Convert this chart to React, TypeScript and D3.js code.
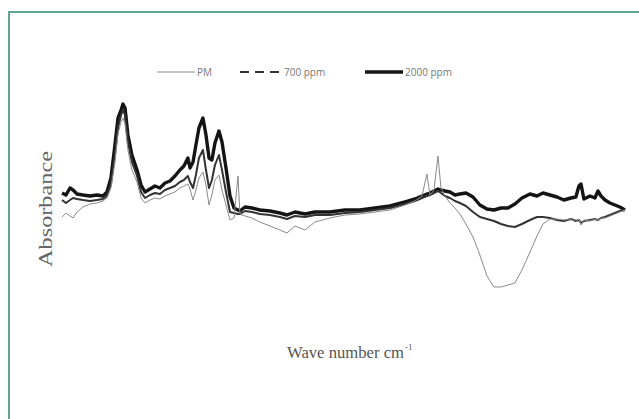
import * as d3 from "d3";
import React from "react";

// FTIR spectra (wave number in cm-1, absorbance in arbitrary units)
const wavenumber = [
  4000, 3975, 3950, 3931, 3906, 3869, 3825, 3781, 3744, 3719,
  3694, 3669, 3650, 3631, 3619, 3606, 3588, 3563, 3531, 3506,
  3481, 3450, 3419, 3388, 3356, 3325, 3294, 3263, 3238, 3213,
  3200, 3181, 3163, 3144, 3119, 3100, 3081, 3063, 3044, 3019,
  3000, 2975, 2950, 2925, 2900, 2888, 2856, 2813, 2763, 2700,
  2638, 2594, 2544, 2481, 2419, 2325, 2231, 2138, 2044, 1950,
  1856, 1794, 1750, 1719, 1700, 1675, 1650, 1631, 1606, 1575,
  1544, 1513, 1475, 1431, 1388, 1344, 1300, 1256, 1213, 1169,
  1125, 1075, 1031, 994, 950, 906, 863, 819, 788, 769,
  756, 738, 700, 669, 650, 631, 606, 575, 544, 513,
  481,
];

const pm = [
  0.83, 0.87, 0.84, 0.82, 0.88, 0.93, 0.96, 0.97, 0.99, 1.02,
  1.12, 1.38, 1.66, 1.78, 1.82, 1.76, 1.5, 1.3, 1.18, 1.02,
  0.97, 1.0, 1.02, 1.01, 1.04, 1.06, 1.08, 1.12, 1.14, 1.16,
  1.11, 1.0, 1.1, 1.22, 1.28, 1.15, 0.95, 1.05, 1.2, 1.25,
  1.1, 0.95, 0.8, 0.82, 1.24, 0.86, 0.84, 0.82, 0.78, 0.74,
  0.7, 0.67, 0.74, 0.7, 0.78, 0.82, 0.85, 0.86, 0.88, 0.9,
  0.95, 0.99, 1.04, 1.26, 1.05, 1.1, 1.44, 1.12, 1.04, 0.97,
  0.92, 0.86, 0.76, 0.63, 0.45, 0.24, 0.13, 0.13, 0.15, 0.17,
  0.3, 0.48, 0.64, 0.76, 0.81, 0.81, 0.8, 0.81, 0.78, 0.81,
  0.75, 0.8, 0.79, 0.81, 0.8, 0.82, 0.82, 0.84, 0.86, 0.88,
  0.9,
];

const ppm700 = [
  1.0, 0.97, 1.0, 1.02, 1.01, 1.0, 0.99, 1.0, 1.01, 1.04,
  1.16, 1.45, 1.72, 1.85, 1.9, 1.85, 1.58, 1.38, 1.24, 1.08,
  1.02, 1.05, 1.07, 1.06, 1.1, 1.12, 1.14, 1.18, 1.2, 1.24,
  1.18, 1.12, 1.25, 1.42, 1.5, 1.3, 1.12, 1.2, 1.35, 1.45,
  1.3, 1.08, 0.88, 0.87, 0.86, 0.86, 0.89, 0.88, 0.86, 0.85,
  0.83, 0.81, 0.84, 0.83, 0.85, 0.85, 0.87, 0.88, 0.9, 0.92,
  0.96, 0.99, 1.02, 1.04, 1.05, 1.07, 1.09, 1.07, 1.04, 1.02,
  0.99, 0.97, 0.94, 0.88, 0.83, 0.81, 0.79, 0.76, 0.74, 0.73,
  0.76, 0.8, 0.83, 0.83, 0.82, 0.8, 0.79, 0.81, 0.79, 0.8,
  0.77, 0.79, 0.8, 0.81, 0.8, 0.82, 0.83, 0.85, 0.87, 0.89,
  0.9,
];

const ppm2000 = [
  1.07, 1.05, 1.12, 1.1, 1.06, 1.05, 1.04, 1.05, 1.04, 1.08,
  1.22, 1.55, 1.82, 1.9, 1.96, 1.92, 1.65, 1.45, 1.3, 1.15,
  1.08, 1.11, 1.14, 1.12, 1.17, 1.19, 1.24, 1.3, 1.34, 1.42,
  1.32, 1.38, 1.55, 1.72, 1.82, 1.65, 1.42, 1.4, 1.57, 1.69,
  1.58, 1.32, 1.04, 0.92, 0.9, 0.89, 0.93, 0.92, 0.9, 0.89,
  0.87, 0.85, 0.88, 0.86, 0.88, 0.88, 0.9, 0.9, 0.92, 0.94,
  0.98, 1.01, 1.04, 1.06, 1.07, 1.09, 1.11, 1.1, 1.09, 1.08,
  1.05, 1.06, 1.07, 1.03, 0.95, 0.91, 0.9, 0.92, 0.92, 0.96,
  1.02, 1.06, 1.04, 1.07, 1.05, 1.03, 1.0, 1.02, 1.03, 1.14,
  1.16, 1.01, 1.04, 1.02, 1.09, 1.04, 1.0, 0.97, 0.95, 0.93,
  0.9,
];

const seriesNames = ["PM", "700 ppm", "2000 ppm"];

const App = () => {
  const ref = React.useRef<SVGSVGElement>(null);

  React.useEffect(() => {
    const width = 639,
      height = 419;
    const svg = d3.select(ref.current);
    svg.selectAll("*").remove();
    svg.attr("width", width).attr("height", height);

    svg.append("rect").attr("width", width).attr("height", height).attr("fill", "#fff");

    // teal frame, only top and left edges show in the crop
    svg
      .append("path")
      .attr("d", `M9,${height} V12 H${width}`)
      .attr("fill", "none")
      .attr("stroke", "#62a594")
      .attr("stroke-width", 2);

    const x = d3.scaleLinear().domain([4000, 481]).range([62, 625]);
    const y = d3.scaleLinear().domain([0, 2]).range([300, 100]);

    const line = d3
      .line<number>()
      .x((_, i) => x(wavenumber[i]))
      .y((d) => y(d));

    // 700 ppm is dashed in the legend but so noisy it reads solid in the plot
    const styles = [
      { data: pm, color: "#8a8a8a", w: 1, dash: null },
      { data: ppm700, color: "#333", w: 2, dash: null },
      { data: ppm2000, color: "#141414", w: 3.4, dash: null },
    ];

    // thick series at the back, thin PM on top
    [2, 1, 0].forEach((k) => {
      const s = styles[k];
      svg
        .append("path")
        .datum(s.data)
        .attr("d", line)
        .attr("fill", "none")
        .attr("stroke", s.color)
        .attr("stroke-width", s.w)
        .attr("stroke-linejoin", "round")
        .attr("stroke-dasharray", s.dash);
    });

    // legend
    const legendX = [157, 240, 365];
    const legendLen = [38, 42, 38];
    const legend = svg.append("g").attr("transform", "translate(0,72)");
    seriesNames.forEach((name, k) => {
      const s = styles[k];
      legend
        .append("line")
        .attr("x1", legendX[k])
        .attr("x2", legendX[k] + legendLen[k])
        .attr("stroke", s.color)
        .attr("stroke-width", s.w)
        .attr("stroke-dasharray", k === 1 ? "9,6" : null);
      legend
        .append("text")
        .attr("x", legendX[k] + legendLen[k] + 2)
        .attr("y", 3.5)
        .attr("font-family", "'Open Sans', sans-serif")
        .attr("font-size", 10)
        .attr("fill", "#777")
        .text(name);
    });

    // axis titles
    svg
      .append("text")
      .attr("transform", "translate(52,209) rotate(-90)")
      .attr("text-anchor", "middle")
      .attr("font-family", "'Liberation Serif', serif")
      .attr("font-size", 18)
      .attr("fill", "#666")
      .attr("textLength", 116)
      .attr("lengthAdjust", "spacingAndGlyphs")
      .text("Absorbance");

    svg
      .append("text")
      .attr("x", 287)
      .attr("y", 358)
      .attr("font-family", "'Liberation Serif', serif")
      .attr("font-size", 17)
      .attr("fill", "#555")
      .attr("textLength", 117)
      .attr("lengthAdjust", "spacingAndGlyphs")
      .text("Wave number cm");
    svg
      .append("text")
      .attr("x", 405)
      .attr("y", 350)
      .attr("font-family", "'Liberation Serif', serif")
      .attr("font-size", 9)
      .attr("fill", "#555")
      .text("-1");
  }, []);

  return <svg ref={ref} style={{ position: "absolute", left: 0, top: 0, display: "block" }} />;
};

export default App;
